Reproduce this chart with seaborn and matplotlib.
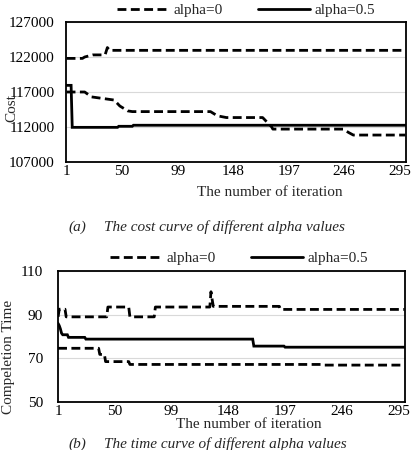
import numpy as np
import pandas as pd
import matplotlib
matplotlib.use("Agg")
import matplotlib.pyplot as plt
import seaborn as sns

# ---------------- data ----------------
x_ticks = [1, 50, 99, 148, 197, 246, 295]

# (a) cost
cost_a0_upper_it = [1, 15, 17, 24, 35, 37, 39, 300]
cost_a0_upper_v = [121800, 121800, 122000, 122300, 122300, 123350, 122950, 122950]

cost_a0_lower_it = [1, 17, 23, 43, 48, 55, 59, 128, 134, 142, 174, 182, 183, 245, 250, 254, 300]
cost_a0_lower_v = [117000, 117000, 116300, 115850, 115000, 114300, 114200, 114200, 113600,
                   113350, 113350, 112000, 111700, 111700, 111200, 110850, 110850]

cost_a05_it = [1, 5, 6, 46, 47, 59, 60, 300]
cost_a05_v = [117950, 117950, 111950, 111950, 112100, 112100, 112250, 112250]

cost_yticks = [107000, 112000, 117000, 122000, 127000]

# (b) completion time
time_a0_upper_it = [1, 2, 7, 8, 43, 44, 62, 63, 84, 85, 132, 133, 134, 135, 192, 193, 300]
time_a0_upper_v = [89, 92.5, 92.5, 89, 89, 93.5, 93.5, 89, 89, 93.5, 93.5, 100.5, 97, 93.8,
                   93.8, 92.4, 92.4]

time_a0_lower_it = [1, 36, 37, 41, 42, 62, 63, 228, 229, 300]
time_a0_lower_v = [74.6, 74.6, 71.8, 71.8, 68.5, 68.5, 67.2, 67.2, 66.9, 66.9]

time_a05_it = [1, 2, 3, 4, 5, 9, 10, 24, 25, 169, 170, 196, 197, 300]
time_a05_v = [86, 85, 83.5, 81.5, 80.8, 80.8, 79.6, 79.6, 78.8, 78.8, 75.6, 75.6, 75.1, 75.1]

time_yticks = [50, 70, 90, 110]

legend_labels = ["alpha=0", "alpha=0.5"]

# ---------------- style ----------------
sns.set_theme(style="white")
plt.rcParams["font.family"] = ["Liberation Serif", "DejaVu Serif"]
plt.rcParams["font.size"] = 11

FS = 11
LW = 2.0
DASH = (3.2, 1.6)

fig = plt.figure(figsize=(4.2, 4.5), dpi=100)
W, H = 420.0, 450.0


def ax_rect(l, t, r, b):
    return [l / W, 1 - b / H, (r - l) / W, (b - t) / H]


def draw_panel(ax, series, yticks, ylim, ypad):
    for i, (it, v, style, lab) in enumerate(series):
        df = pd.DataFrame({"it": it, "v": v})
        sns.lineplot(data=df, x="it", y="v", ax=ax, color="black", linewidth=LW,
                     estimator=None, sort=False, label=lab)
        ln = ax.lines[-1]
        if style == "dash":
            ln.set_linestyle((0, DASH))
        ln.set_solid_joinstyle("miter")
    ax.set_xlim(0.5, 300.5)
    ax.set_ylim(*ylim)
    ax.set_xticks(x_ticks)
    ax.set_xticklabels([str(t) for t in x_ticks])
    ax.set_yticks(yticks)
    ax.set_yticklabels([str(t) for t in yticks])
    ax.grid(axis="y", color="#d9d9d9", linewidth=0.8)
    ax.set_axisbelow(True)
    for s in ax.spines.values():
        s.set_visible(True)
        s.set_color("black")
        s.set_linewidth(1.3)
    ax.tick_params(axis="both", length=0, labelsize=FS, colors="black")
    ax.tick_params(axis="y", pad=ypad)
    ax.tick_params(axis="x", pad=2)
    ax.set_xlabel("")
    ax.set_ylabel("")
    leg = ax.get_legend()
    if leg is not None:
        leg.remove()


# ---- panel (a)
ax1 = fig.add_axes(ax_rect(66, 22, 406, 162))
draw_panel(ax1,
           [(cost_a0_upper_it, cost_a0_upper_v, "dash", legend_labels[0]),
            (cost_a0_lower_it, cost_a0_lower_v, "dash", "_nolegend_"),
            (cost_a05_it, cost_a05_v, "solid", legend_labels[1])],
           cost_yticks, (107000, 127000), 8)
h1, l1 = ax1.get_legend_handles_labels()
fig.legend(h1, l1, loc="center", bbox_to_anchor=(246 / W, 1 - 10 / H), ncol=2,
           frameon=False, fontsize=FS, handlelength=3.4, handletextpad=0.3,
           columnspacing=2.3, borderaxespad=0, borderpad=0)
fig.text(12 / W, 1 - 108 / H, "Cost", rotation=90, ha="center", va="center", fontsize=FS)
fig.text(270 / W, 1 - 192 / H, "The number of iteration", ha="center", va="center", fontsize=FS)
fig.text(68 / W, 1 - 227 / H, "(a)", ha="left", va="center", fontsize=FS, style="italic")
fig.text(104 / W, 1 - 227 / H, "The cost curve of different alpha values", ha="left",
         va="center", fontsize=FS, style="italic")

# ---- panel (b)
ax2 = fig.add_axes(ax_rect(57.5, 271, 405, 402))
draw_panel(ax2,
           [(time_a0_upper_it, time_a0_upper_v, "dash", legend_labels[0]),
            (time_a0_lower_it, time_a0_lower_v, "dash", "_nolegend_"),
            (time_a05_it, time_a05_v, "solid", legend_labels[1])],
           time_yticks, (50, 110), 10.5)
h2, l2 = ax2.get_legend_handles_labels()
fig.legend(h2, l2, loc="center", bbox_to_anchor=(239.5 / W, 1 - 258 / H), ncol=2,
           frameon=False, fontsize=FS, handlelength=3.4, handletextpad=0.3,
           columnspacing=2.3, borderaxespad=0, borderpad=0)
fig.text(9 / W, 1 - 357 / H, "Compeletion Time", rotation=90, ha="center", va="center",
         fontsize=FS)
fig.text(249 / W, 1 - 424 / H, "The number of iteration", ha="center", va="center", fontsize=FS)
fig.text(68 / W, 1 - 444 / H, "(b)", ha="left", va="center", fontsize=FS, style="italic")
fig.text(104 / W, 1 - 444 / H, "The time curve of different alpha values", ha="left",
         va="center", fontsize=FS, style="italic")

fig.savefig("out.png", dpi=100)
